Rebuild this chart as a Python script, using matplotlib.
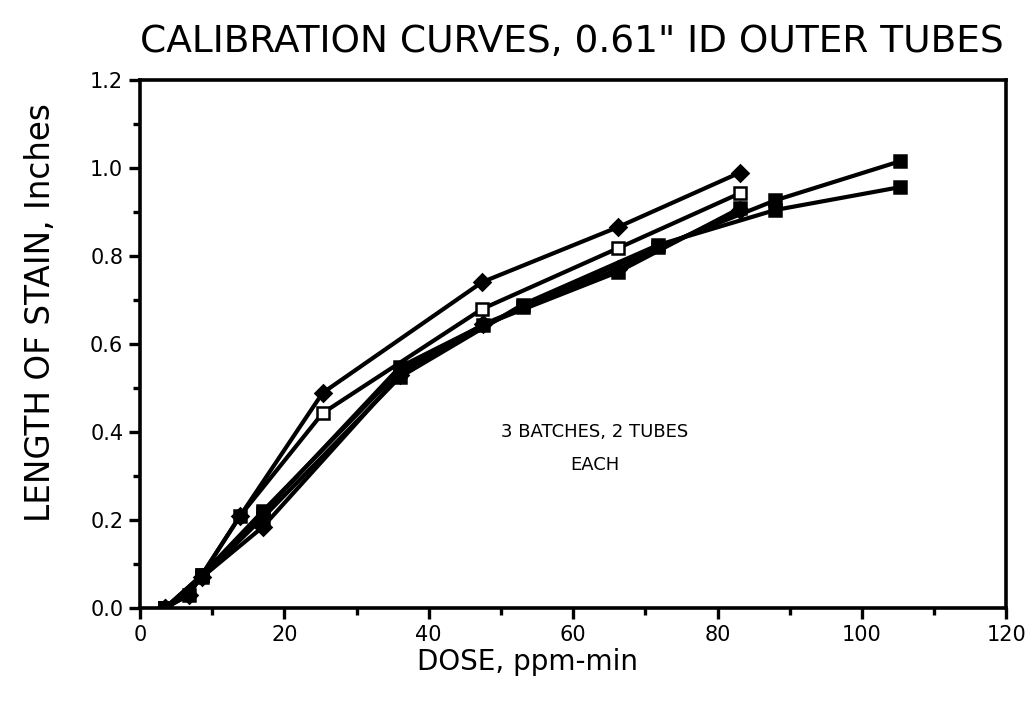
import numpy as np
import matplotlib.pyplot as plt
from matplotlib.ticker import MultipleLocator

# dose (ppm-min) and stain length (inches)
dose_a = [3.5, 6.8, 13.9, 25.3, 47.4, 66.2, 83.1]
stain_a1 = [0.0, 0.03, 0.21, 0.443, 0.68, 0.818, 0.943]   # open square
stain_a2 = [0.0, 0.03, 0.21, 0.489, 0.741, 0.866, 0.99]   # filled diamond

dose_b = [3.5, 8.6, 17.0, 36.0, 47.5, 66.2, 83.1]
stain_b1 = [0.0, 0.075, 0.216, 0.548, 0.643, 0.764, 0.909]
stain_b2 = [0.0, 0.07, 0.184, 0.53, 0.645, 0.77, 0.905]

dose_c = [3.5, 8.6, 17.0, 36.0, 53.0, 71.7, 88.0, 105.3]
stain_c1 = [0.0, 0.075, 0.22, 0.54, 0.685, 0.82, 0.927, 1.016]
stain_c2 = [0.0, 0.07, 0.205, 0.525, 0.69, 0.825, 0.905, 0.957]

series = [
    (dose_a, stain_a1, 's', 'white'),
    (dose_a, stain_a2, 'D', 'black'),
    (dose_b, stain_b1, 's', 'black'),
    (dose_b, stain_b2, 'D', 'black'),
    (dose_c, stain_c1, 's', 'black'),
    (dose_c, stain_c2, 's', 'black'),
]

plt.rcParams['font.family'] = ['DejaVu Sans']

fig = plt.figure(figsize=(10.29, 7.04), dpi=100)
ax = fig.add_axes([0.136, 0.1364, 0.842, 0.7496])

for x, y, m, fc in series:
    ax.plot(x, y, color='black', lw=3, marker=m, ms=8.5,
            mfc=fc, mec='black', mew=1.8)

ax.set_xlim(0, 120)
ax.set_ylim(0, 1.2)
ax.xaxis.set_major_locator(MultipleLocator(20))
ax.xaxis.set_minor_locator(MultipleLocator(10))
ax.yaxis.set_major_locator(MultipleLocator(0.2))
ax.yaxis.set_minor_locator(MultipleLocator(0.1))
ax.yaxis.set_major_formatter(plt.FormatStrFormatter('%.1f'))

for s in ax.spines.values():
    s.set_linewidth(2.6)
ax.tick_params(which='major', direction='out', length=8, width=2.4,
               labelsize=15, pad=4)
ax.tick_params(which='minor', direction='out', length=5, width=2.4)

ax.set_xlabel('DOSE, ppm-min', fontsize=20)
ax.xaxis.set_label_coords(0.447, -0.076)
ax.set_ylabel('LENGTH OF STAIN, Inches', fontsize=23.5)
ax.yaxis.set_label_coords(-0.096, 0.56)
fig.text(0.556, 0.941, 'CALIBRATION CURVES, 0.61" ID OUTER TUBES',
         fontsize=27, ha='center', va='center')

ax.text(63, 0.40, '3 BATCHES, 2 TUBES', ha='center', va='center', fontsize=13)
ax.text(63, 0.325, 'EACH', ha='center', va='center', fontsize=13)

fig.savefig('out.png', dpi=100)
